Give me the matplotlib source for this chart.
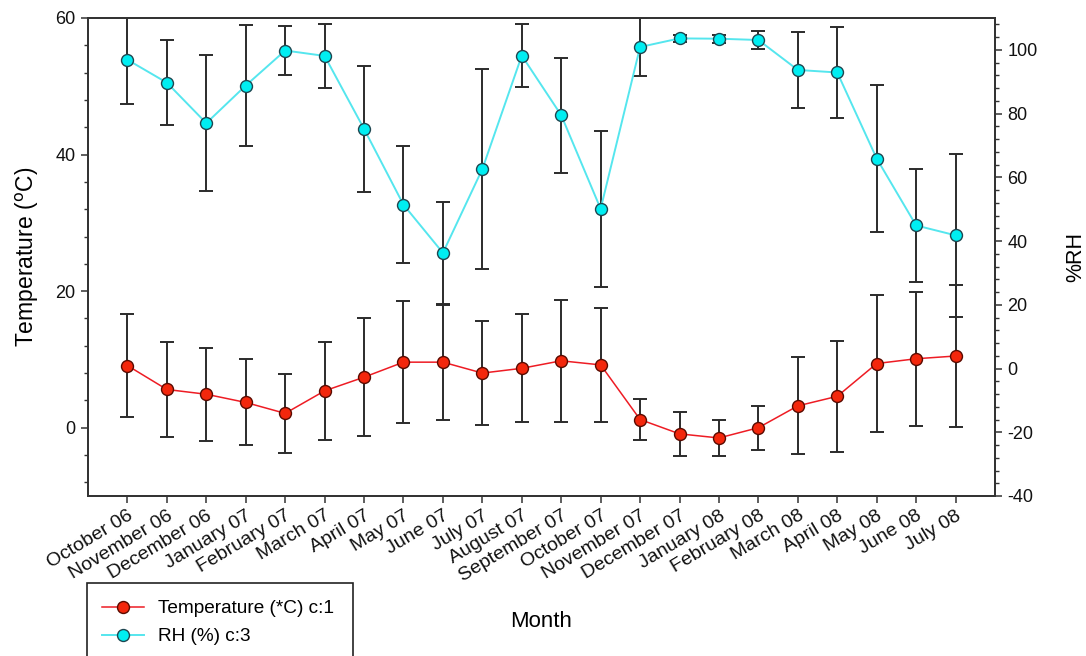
import matplotlib
matplotlib.use("Agg")
import matplotlib.pyplot as plt
from matplotlib.lines import Line2D
from matplotlib.patches import Rectangle
from matplotlib.ticker import MultipleLocator

plt.rcParams["font.family"] = ["Liberation Sans", "DejaVu Sans"]
plt.rcParams["axes.unicode_minus"] = False

months = ["October 06", "November 06", "December 06", "January 07", "February 07",
          "March 07", "April 07", "May 07", "June 07", "July 07", "August 07",
          "September 07", "October 07", "November 07", "December 07", "January 08",
          "February 08", "March 08", "April 08", "May 08", "June 08", "July 08"]

temp = [9.1, 5.6, 4.9, 3.7, 2.1, 5.4, 7.4, 9.6, 9.6, 8.0, 8.7,
        9.8, 9.2, 1.2, -0.9, -1.5, 0.0, 3.2, 4.6, 9.4, 10.1, 10.5]
temp_err = [7.6, 7.0, 6.8, 6.3, 5.8, 7.2, 8.6, 8.9, 8.4, 7.6, 7.9,
            8.9, 8.4, 3.0, 3.2, 2.6, 3.2, 7.1, 8.1, 10.1, 9.8, 10.4]

rh = [96.9, 89.7, 77.0, 88.8, 99.8, 98.1, 75.2, 51.4, 36.3, 62.6, 98.2,
      79.5, 50.1, 100.9, 103.6, 103.5, 103.1, 93.7, 92.9, 65.9, 44.9, 41.8]
rh_err = [13.8, 13.4, 21.4, 19.1, 7.6, 10.0, 19.7, 18.3, 15.9, 31.3, 9.8,
          18.1, 24.4, 9.0, 1.0, 1.2, 2.7, 12.0, 14.4, 23.0, 17.6, 25.5]

x = list(range(len(months)))

t_line, t_face, t_edge = "#EE1C24", "#F3270C", "#5A0A00"
r_line, r_face, r_edge = "#55E6EE", "#00EEF2", "#1E4650"
err_col = "#2B2B2B"

fig = plt.figure(figsize=(10.86, 6.56), dpi=100)
ax = fig.add_axes([88 / 1086, 1 - 496 / 656, 907 / 1086, 478 / 656])
ax2 = ax.twinx()

ax.errorbar(x, temp, yerr=temp_err, fmt="none", ecolor=err_col, elinewidth=1.4,
            capsize=5.3, capthick=1.4, zorder=2)
ax.plot(x, temp, color=t_line, lw=1.1, marker="o", ms=8.6, mfc=t_face,
        mec=t_edge, mew=1.0, zorder=3)

ax2.errorbar(x, rh, yerr=rh_err, fmt="none", ecolor=err_col, elinewidth=1.4,
             capsize=5.3, capthick=1.4, zorder=2)
ax2.plot(x, rh, color=r_line, lw=1.4, marker="o", ms=8.6, mfc=r_face,
         mec=r_edge, mew=1.0, zorder=3)

ax.set_xlim(-1, 22)
ax.set_ylim(-10, 60)
ax2.set_ylim(-40, 110)

ax.set_xticks(x)
ax.set_xticklabels(months, rotation=31, ha="right", rotation_mode="anchor")
ax.yaxis.set_major_locator(MultipleLocator(20))
ax.yaxis.set_minor_locator(MultipleLocator(4))
ax2.yaxis.set_major_locator(MultipleLocator(20))
ax2.yaxis.set_minor_locator(MultipleLocator(4))

for a in (ax, ax2):
    a.tick_params(axis="both", which="major", length=5, width=1.1, labelsize=13,
                  color="#333333", labelcolor="#111111", pad=4)
    a.tick_params(axis="y", which="minor", length=3, width=1.0, colors="#333333")
    for s in a.spines.values():
        s.set_color("#333333")
        s.set_linewidth(1.3)
ax.tick_params(axis="x", which="major", pad=3, labelsize=14)

ax.set_ylabel("Temperature ($^{\\rm o}$C)", fontsize=16.5)
ax.yaxis.set_label_coords(-0.052, 0.5)
ax2.set_ylabel("%RH", fontsize=15.5)
ax2.yaxis.set_label_coords(1.077, 0.5)
ax.set_xlabel("Month", fontsize=16)
ax.xaxis.set_label_coords(0.5, -0.24)

# legend box runs off the bottom edge, as in the original
fig.patches.append(Rectangle((87 / 1086, -0.05), 266 / 1086, 0.05 + (656 - 583) / 656,
                             transform=fig.transFigure, fill=False,
                             edgecolor="#222222", lw=1.2))
handles = [
    Line2D([], [], color=t_line, lw=1.1, marker="o", ms=8.6, mfc=t_face, mec=t_edge),
    Line2D([], [], color=r_line, lw=1.4, marker="o", ms=8.6, mfc=r_face, mec=r_edge),
]
fig.legend(handles, ["Temperature (*C) c:1", "RH (%) c:3"], loc="upper left",
           bbox_to_anchor=(102 / 1086, 1 - 600 / 656), frameon=False, fontsize=13.7,
           handlelength=2.2, handletextpad=0.75, labelspacing=0.56,
           borderaxespad=0, borderpad=0)

fig.savefig("out.png", dpi=100)
